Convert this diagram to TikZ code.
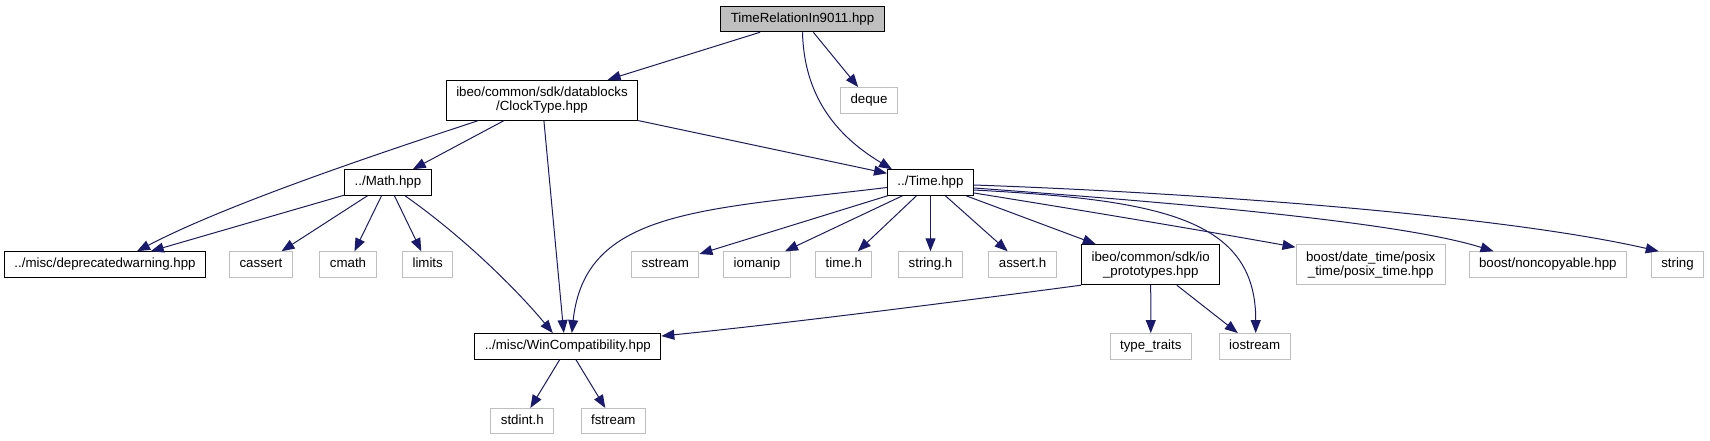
\documentclass[tikz,border=0pt]{standalone}
\usepackage{fontspec}
\setmainfont{Liberation Sans}
\usepackage{xcolor}
\usetikzlibrary{arrows.meta}

\definecolor{edgeblue}{HTML}{191970}
\definecolor{grey75}{HTML}{BFBFBF}

\begin{document}
\begin{tikzpicture}[x=1pt,y=1pt,every node/.style={font=\fontsize{13.3}{14}\selectfont},
  box/.style={draw,fill=white,line width=1pt,minimum height=25.5pt,inner xsep=10pt,inner ysep=0pt,
    text height=9.6pt,text depth=2.9pt},
  tallbox/.style={draw,fill=white,line width=1pt,minimum height=40pt,inner xsep=10pt,inner ysep=0pt,align=center},
  sys/.style={draw=grey75},
  root/.style={fill=grey75},
  incl/.style={draw=edgeblue,line width=1pt,-{Triangle[length=13pt,width=10pt]}}]
  \useasboundingbox (0,0) rectangle (1710,-440);
  % files
  \node[box,root] (trel) at (802.5,-19) {TimeRelationIn9011.hpp};
  \node[tallbox] (clock) at (542,-100.3) {ibeo/common/sdk/datablocks\\/ClockType.hpp};
  \node[box,sys] (deque) at (869,-100.3) {deque};
  \node[box] (math) at (388,-182.5) {../Math.hpp};
  \node[box] (time) at (930.5,-182.5) {../Time.hpp};
  \node[box] (depr) at (105,-264.5) {../misc/deprecatedwarning.hpp};
  \node[box,sys] (cassert) at (261,-264.5) {cassert};
  \node[box,sys] (cmath) at (348,-264.5) {cmath};
  \node[box,sys] (limits) at (427.7,-264.5) {limits};
  \node[box,sys] (sstream) at (665.3,-264.5) {sstream};
  \node[box,sys] (iomanip) at (757,-264.5) {iomanip};
  \node[box,sys] (timeh) at (843.8,-264.5) {time.h};
  \node[box,sys] (stringh) at (930.5,-264.5) {string.h};
  \node[box,sys] (asserth) at (1022.5,-264.5) {assert.h};
  \node[tallbox] (ioproto) at (1150.7,-264.7) {ibeo/common/sdk/io\\\_prototypes.hpp};
  \node[tallbox,sys] (posix) at (1370.7,-264.7) {boost/date\_time/posix\\\_time/posix\_time.hpp};
  \node[box,sys] (noncopy) at (1547.8,-264.5) {boost/noncopyable.hpp};
  \node[box,sys] (string) at (1677.5,-264.5) {string};
  \node[box] (win) at (567.8,-346.3) {../misc/WinCompatibility.hpp};
  \node[box,sys] (typetr) at (1150.8,-346.3) {type\_traits};
  \node[box,sys] (iostream) at (1254.7,-346.3) {iostream};
  \node[box,sys] (stdint) at (522.3,-421.2) {stdint.h};
  \node[box,sys] (fstream) at (613.3,-421.2) {fstream};
  % includes
  \draw[incl] (trel)--(clock); \draw[incl] (trel)--(deque);
  \draw[incl] (trel.south) .. controls (804,-95) and (835,-135) .. ([xshift=5pt]time.north west);
  \draw[incl] ([xshift=32pt]clock.south west) .. controls (383,-152) and (227,-204) .. ([xshift=32pt]depr.north);
  \draw[incl] (clock)--(math); \draw[incl] (clock)--([xshift=-4pt]win.north); \draw[incl] (clock)--(time);
  \draw[incl] (math)--(depr);
  \foreach \dst in {cassert,cmath,limits} \draw[incl] (math)--(\dst);
  \draw[incl] ([xshift=17pt]math.south) .. controls (465,-238) and (518,-291) .. ([xshift=-15pt]win.north);
  \draw[incl] ([yshift=-5pt]time.west) .. controls (700,-210) and (585,-210) .. ([xshift=4pt]win.north);
  \foreach \dst in {sstream,iomanip,timeh,stringh,asserth,ioproto} \draw[incl] (time)--(\dst);
  \draw[incl] ([yshift=-10.5pt]time.east) .. controls (1080,-210) and (1200,-230) .. ([yshift=-3pt]posix.north west);
  \draw[incl] ([yshift=-5.5pt]time.east) .. controls (1180,-203) and (1400,-222) .. ([xshift=25pt]noncopy.north west);
  \draw[incl] ([yshift=-2.5pt]time.east) .. controls (1200,-193) and (1500,-215) .. ([xshift=8pt]string.north west);
  \draw[incl] ([yshift=-7.5pt]time.east) .. controls (1160,-200) and (1256,-218) .. ([xshift=1pt]iostream.north);
  \draw[incl] (ioproto.south west) .. controls (1000,-296) and (800,-322) .. ([yshift=-3pt]win.north east);
  \draw[incl] (ioproto)--(typetr); \draw[incl] (ioproto)--(iostream);
  \draw[incl] (win)--(stdint); \draw[incl] (win)--(fstream);
\end{tikzpicture}
\end{document}
